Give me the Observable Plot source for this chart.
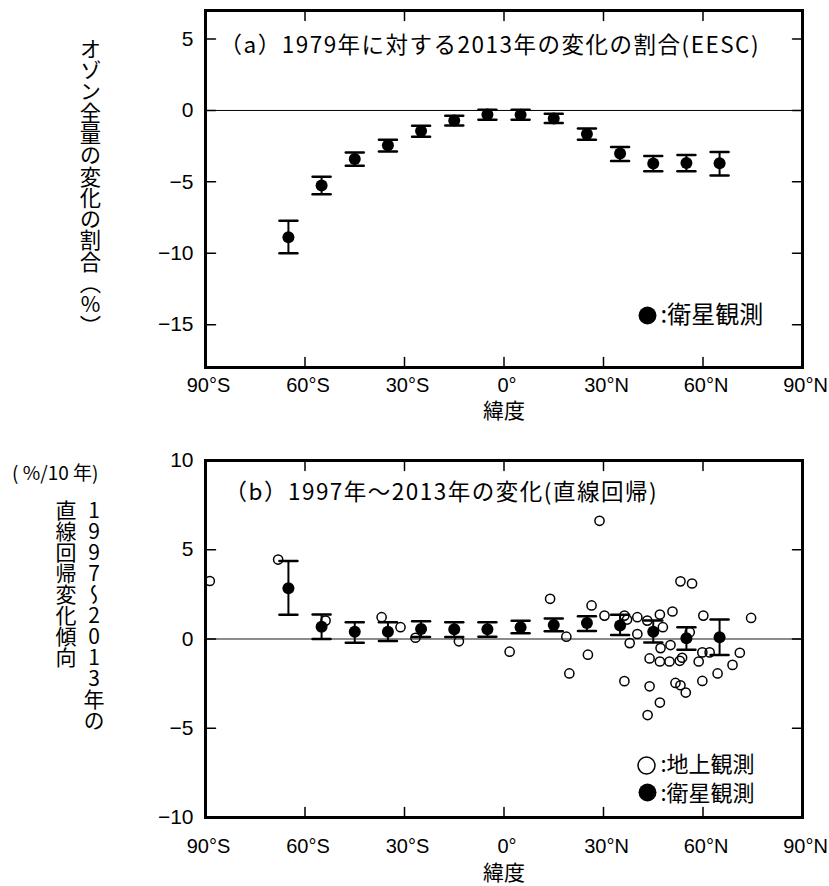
<!DOCTYPE html>
<html><head><meta charset="utf-8">
<script src="https://cdn.jsdelivr.net/npm/d3@7"></script>
<script src="https://cdn.jsdelivr.net/npm/@observablehq/plot@0.6"></script>
<style>
body{margin:0;background:#fff;}
#wrap{position:relative;width:829px;height:886px;overflow:hidden;background:#fff}
.vt{position:absolute;writing-mode:vertical-rl;text-orientation:upright;font-family:"Noto Sans CJK JP",sans-serif;color:#000;white-space:nowrap}
</style></head><body>
<div id="wrap">
 <div id="p1" style="position:absolute;left:0;top:0"></div>
 <div id="p2" style="position:absolute;left:0;top:430px"></div>
 <div class="vt" style="left:80px;top:38px;font-size:21.3px;line-height:21px">オゾン全量の変化の割合（%）</div>
 <div style="position:absolute;left:12px;top:461px;font-family:'Noto Sans CJK JP',sans-serif;font-size:19px;line-height:21px">( %/10 年)</div>
 <div class="vt" style="left:83px;top:500px;font-size:21px;line-height:21px">1997〜2013年の</div>
 <div class="vt" style="left:55px;top:500px;font-size:21px;line-height:21px">直線回帰変化傾向</div>
</div>
<script>
// ---------- data ----------
const latBands = [-65, -55, -45, -35, -25, -15, -5, 5, 15, 25, 35, 45, 55, 65];

// (a) 1979 -> 2013 fractional change (EESC), satellite
const aVal = [-8.88, -5.25, -3.40, -2.44, -1.44, -0.70, -0.28, -0.30, -0.56, -1.65, -3.02, -3.72, -3.68, -3.70];
const aLo  = [-10.0, -5.86, -3.88, -2.88, -1.84, -1.05, -0.65, -0.65, -0.88, -2.05, -3.54, -4.26, -4.26, -4.56];
const aHi  = [-7.73, -4.65, -2.95, -2.05, -1.07, -0.37, 0.05, 0.05, -0.23, -1.26, -2.56, -3.19, -3.12, -2.91];

// (b) 1997-2013 linear trend, satellite
const bVal = [2.84, 0.68, 0.40, 0.41, 0.56, 0.55, 0.55, 0.66, 0.79, 0.90, 0.75, 0.41, 0.04, 0.10];
const bLo  = [1.36, 0.00, -0.21, -0.11, 0.11, 0.11, 0.13, 0.32, 0.43, 0.45, 0.23, -0.19, -0.60, -0.90];
const bHi  = [4.37, 1.37, 0.94, 0.94, 1.00, 0.94, 0.94, 1.02, 1.15, 1.28, 1.36, 1.03, 0.66, 1.09];

// (b) ground-based stations
const groundLat = [-88.7, -68.1, -53.8, -36.9, -31.2, -26.7, -13.6, 1.7, 13.9, 18.8,
  19.7, 25.3, 26.4, 28.8, 30.3, 36.3, 37.1, 36.3, 37.9, 40.2,
  40.2, 43.2, 43.9, 43.9, 43.3, 47.0, 47.9, 47.2, 47.0, 47.0,
  49.9, 50.2, 50.8, 51.7, 53.2, 53.0, 53.7, 53.2, 54.8, 56.0,
  56.7, 58.7, 59.8, 59.8, 60.1, 62.0, 64.4, 68.9, 71.1, 74.5];
const groundVal = [3.25, 4.45, 1.03, 1.22, 0.66, 0.07, -0.13, -0.71, 2.25, 0.13,
  -1.93, -0.88, 1.88, 6.62, 1.31, 1.31, 1.09, -2.36, -0.23, 1.22,
  0.28, 1.03, -1.09, -2.65, -4.26, 1.37, 0.66, -0.51, -1.26, -3.56,
  -1.26, -0.34, 1.54, -2.46, -2.59, -1.22, -1.05, 3.23, -3.00, 0.38,
  3.11, -1.26, -0.75, -2.35, 1.31, -0.75, -1.93, -1.45, -0.77, 1.18];

const xTickLabels = [-90, -60, -30, 0, 30, 60, 90];
const xTickInner = [-60, -30, 0, 30, 60];
const yTicksA = [5, 0, -5, -10, -15];
const yTicksB = [10, 5, 0, -5, -10];
const yInnerB = [5, 0, -5];

const titleA = "（a）1979年に対する2013年の変化の割合(EESC)";
const titleB = "（b）1997年～2013年の変化(直線回帰)";
const legSat = ":衛星観測";
const legGround = ":地上観測";
const xLabel = "緯度";

// ---------- helpers ----------
const satA = latBands.map((lat, i) => ({lat, val: aVal[i], lo: aLo[i], hi: aHi[i]}));
const satB = latBands.map((lat, i) => ({lat, val: bVal[i], lo: bLo[i], hi: bHi[i]}));
const ground = groundLat.map((lat, i) => ({lat, val: groundVal[i]}));

const CJK = '"Noto Sans CJK JP", sans-serif';
const LAT = '"Liberation Sans", Arial, sans-serif';
const fmtLat = d => d === 0 ? "0°" : d < 0 ? `${-d}°S` : `${d}°N`;
const fmtNum = d => d < 0 ? "\u2212" + (-d) : String(d);
const lineShape = {draw(ctx, l) { ctx.moveTo(0, 0); ctx.lineTo(0, -l); }};

function innerTicks(xt, yt, len) {
  const o = {length: len, anchor: "start", shape: lineShape, stroke: "black", strokeWidth: 1.5};
  return [
    Plot.vector(yt, {y: d => d, frameAnchor: "left", rotate: 90, ...o}),
    Plot.vector(yt, {y: d => d, frameAnchor: "right", rotate: -90, ...o}),
    Plot.vector(xt, {x: d => d, frameAnchor: "top", rotate: 180, ...o}),
    Plot.vector(xt, {x: d => d, frameAnchor: "bottom", rotate: 0, ...o})
  ];
}
function errorBars(data) {
  const cap = {x: "lat", length: 18, rotate: 90, anchor: "middle", shape: lineShape, stroke: "black", strokeWidth: 2.5};
  return [
    Plot.ruleX(data, {x: "lat", y1: "lo", y2: "hi", stroke: "black", strokeWidth: 2}),
    Plot.vector(data, {y: "lo", ...cap}),
    Plot.vector(data, {y: "hi", ...cap}),
    Plot.dot(data, {x: "lat", y: "val", r: 6, fill: "black"})
  ];
}
function spaced(svg) {
  d3.select(svg).selectAll("g[aria-label='text'] text").filter(function() {
    return /[（(]/.test(this.textContent) && this.textContent.length > 15;
  }).attr("letter-spacing", "1.5px");
  return svg;
}

// ---------- panel (a) ----------
const p1 = Plot.plot({
  width: 829, height: 430,
  marginTop: 10, marginBottom: 63, marginLeft: 205, marginRight: 27,
  x: {domain: [-90, 90]},
  y: {domain: [-18, 7]},
  style: {fontFamily: LAT, background: "white", color: "black", overflow: "visible"},
  marks: [
    Plot.ruleY([0], {stroke: "black", strokeWidth: 1}),
    ...errorBars(satA),
    ...innerTicks(xTickInner, yTicksA, 10),
    Plot.frame({stroke: "black", strokeWidth: 3}),
    Plot.axisY(yTicksA, {anchor: "left", tickSize: 0, tickPadding: 12, tickFormat: fmtNum, fontSize: 21, label: null}),
    Plot.axisX(xTickLabels, {anchor: "bottom", tickSize: 0, tickPadding: 10, tickFormat: fmtLat, fontSize: 20, label: null, dx: 3}),
    Plot.text([xLabel], {text: d => d, frameAnchor: "bottom", dy: 44, lineAnchor: "middle", fontSize: 21, fontFamily: CJK}),
    Plot.text([titleA], {text: d => d, frameAnchor: "top-left", dx: 14, dy: 35, textAnchor: "start", lineAnchor: "middle", fontSize: 22.5, fontFamily: CJK}),
    Plot.dot([0], {frameAnchor: "top-left", dx: 442, dy: 305, r: 9, fill: "black"}),
    Plot.text([legSat], {text: d => d, frameAnchor: "top-left", dx: 455, dy: 305, textAnchor: "start", lineAnchor: "middle", fontSize: 24, fontFamily: CJK})
  ]
});
document.getElementById("p1").append(spaced(p1));

// ---------- panel (b) ----------
const p2 = Plot.plot({
  width: 829, height: 456,
  marginTop: 30, marginBottom: 69, marginLeft: 205, marginRight: 27,
  x: {domain: [-90, 90]},
  y: {domain: [-10, 10]},
  style: {fontFamily: LAT, background: "white", color: "black", overflow: "visible"},
  marks: [
    Plot.ruleY([0], {stroke: "#8c8c8c", strokeWidth: 2}),
    Plot.dot(ground, {x: "lat", y: "val", r: 4.6, stroke: "black", strokeWidth: 1.5, fill: "none", clip: true}),
    ...errorBars(satB),
    ...innerTicks(xTickInner, yInnerB, 10),
    Plot.frame({stroke: "black", strokeWidth: 3}),
    Plot.axisY(yTicksB, {anchor: "left", tickSize: 0, tickPadding: 12, tickFormat: fmtNum, fontSize: 21, label: null}),
    Plot.axisX(xTickLabels, {anchor: "bottom", tickSize: 0, tickPadding: 21, tickFormat: fmtLat, fontSize: 20, label: null, dx: 3}),
    Plot.text([xLabel], {text: d => d, frameAnchor: "bottom", dy: 56, lineAnchor: "middle", fontSize: 21, fontFamily: CJK}),
    Plot.text([titleB], {text: d => d, frameAnchor: "top-left", dx: 19, dy: 32, textAnchor: "start", lineAnchor: "middle", fontSize: 22.5, fontFamily: CJK}),
    Plot.dot([0], {frameAnchor: "top-left", dx: 441, dy: 305, r: 8.5, fill: "none", stroke: "black", strokeWidth: 1.5}),
    Plot.dot([0], {frameAnchor: "top-left", dx: 442, dy: 332, r: 9, fill: "black"}),
    Plot.text([legGround], {text: d => d, frameAnchor: "top-left", dx: 455, dy: 304, textAnchor: "start", lineAnchor: "middle", fontSize: 22, fontFamily: CJK}),
    Plot.text([legSat], {text: d => d, frameAnchor: "top-left", dx: 455, dy: 333, textAnchor: "start", lineAnchor: "middle", fontSize: 22, fontFamily: CJK})
  ]
});
document.getElementById("p2").append(spaced(p2));
</script>
</body></html>
